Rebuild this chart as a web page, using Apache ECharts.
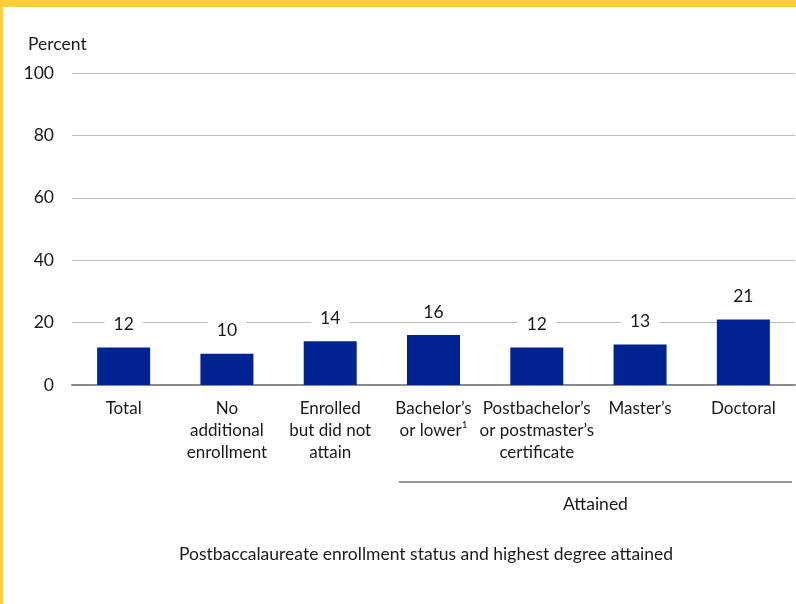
<!DOCTYPE html>
<html>
<head>
<meta charset="utf-8">
<script src="https://cdn.jsdelivr.net/npm/echarts@6/dist/echarts.min.js"></script>
<style>
  html, body { margin: 0; padding: 0; background: #fff; }
  #chart { width: 796px; height: 604px; }
</style>
</head>
<body>
<div id="chart"></div>
<script>
// Categories (with line breaks as shown under the axis) and their values
const categories = [
  'Total',
  'No\nadditional\nenrollment',
  'Enrolled\nbut did not\nattain',
  'Bachelor’s\nor lower',
  'Postbachelor’s\nor postmaster’s\ncertificate',
  'Master’s',
  'Doctoral'
];
const values = [12, 10, 14, 16, 12, 13, 21];
const yTicks = [0, 20, 40, 60, 80, 100];

// Categories that fall under the "Attained" bracket
const attainedFrom = 3;
const attainedTo = 6;

const FONT = 'Lato, "Open Sans", sans-serif';
const TEXT = '#1a1a1a';
const YELLOW = '#FFCD34';

const chart = echarts.init(document.getElementById('chart'), null, { renderer: 'canvas' });

const option = {
  animation: false,
  backgroundColor: '#fff',
  textStyle: { fontFamily: FONT, color: TEXT },
  title: [
    { text: 'Percent', left: 23, top: 30, textStyle: { fontFamily: FONT, fontSize: 17.5, fontWeight: 'normal', color: TEXT } },
    { text: 'Postbaccalaureate enrollment status and highest degree attained', left: 421, top: 540, textAlign: 'center',
      textStyle: { fontFamily: FONT, fontSize: 17.5, fontWeight: 'normal', color: TEXT } }
  ],
  grid: { left: 72, right: 1, top: 73, bottom: 219, containLabel: false },
  xAxis: {
    type: 'category',
    data: categories,
    axisTick: { show: false },
    axisLine: { show: true, lineStyle: { color: '#8a8a8a', width: 2 } },
    axisLabel: {
      interval: 0,
      margin: 13,
      color: TEXT,
      fontFamily: FONT,
      fontSize: 17,
      lineHeight: 22,
      formatter: function (v) {
        if (v === categories[3]) {
          const parts = v.split('\n');
          return '{a|' + parts[0] + '}\n{a|' + parts[1] + '}{sup|1}';
        }
        return v;
      },
      rich: {
        a: { fontFamily: FONT, fontSize: 17, lineHeight: 22, color: TEXT },
        sup: { fontFamily: FONT, fontSize: 10, lineHeight: 22, verticalAlign: 'top', padding: [0, 0, 9, 0], color: TEXT }
      }
    }
  },
  yAxis: {
    type: 'value',
    min: yTicks[0],
    max: yTicks[yTicks.length - 1],
    interval: yTicks[1] - yTicks[0],
    axisLine: { show: false },
    axisTick: { show: false },
    axisLabel: { margin: 18, color: TEXT, fontFamily: FONT, fontSize: 17.5 },
    splitLine: { lineStyle: { color: '#bdbdbd', width: 1.2 } }
  },
  series: [{
    type: 'bar',
    data: values,
    barWidth: 53,
    itemStyle: { color: '#002392' },
    label: {
      show: true,
      position: 'top',
      distance: 13,
      color: TEXT,
      fontFamily: FONT,
      fontSize: 17.5,
      backgroundColor: '#fff',
      padding: [1, 9]
    }
  }]
};

chart.setOption(option);

// Border strips and the "Attained" bracket, placed from the category scale
function drawExtras() {
  const bandStart = chart.convertToPixel({ xAxisIndex: 0 }, categories[attainedFrom]);
  const bandEnd = chart.convertToPixel({ xAxisIndex: 0 }, categories[attainedTo]);
  const step = chart.convertToPixel({ xAxisIndex: 0 }, categories[1]) - chart.convertToPixel({ xAxisIndex: 0 }, categories[0]);
  const x1 = bandStart - step / 2 + 17;
  const x2 = bandEnd + step / 2 - 3;
  chart.setOption({
    graphic: [
      { type: 'rect', left: 0, top: 0, shape: { width: 796, height: 7 }, style: { fill: YELLOW }, z: 100 },
      { type: 'rect', left: 0, top: 0, shape: { width: 3, height: 604 }, style: { fill: YELLOW }, z: 100 },
      { type: 'line', shape: { x1: x1, y1: 482, x2: x2, y2: 482 }, style: { stroke: '#777', lineWidth: 1.5 }, z: 50 },
      { type: 'text', x: (x1 + x2) / 2, y: 495, style: { text: 'Attained', fill: TEXT, font: '17.5px ' + FONT, textAlign: 'center' }, z: 50 }
    ]
  });
}
drawExtras();
</script>
</body>
</html>
